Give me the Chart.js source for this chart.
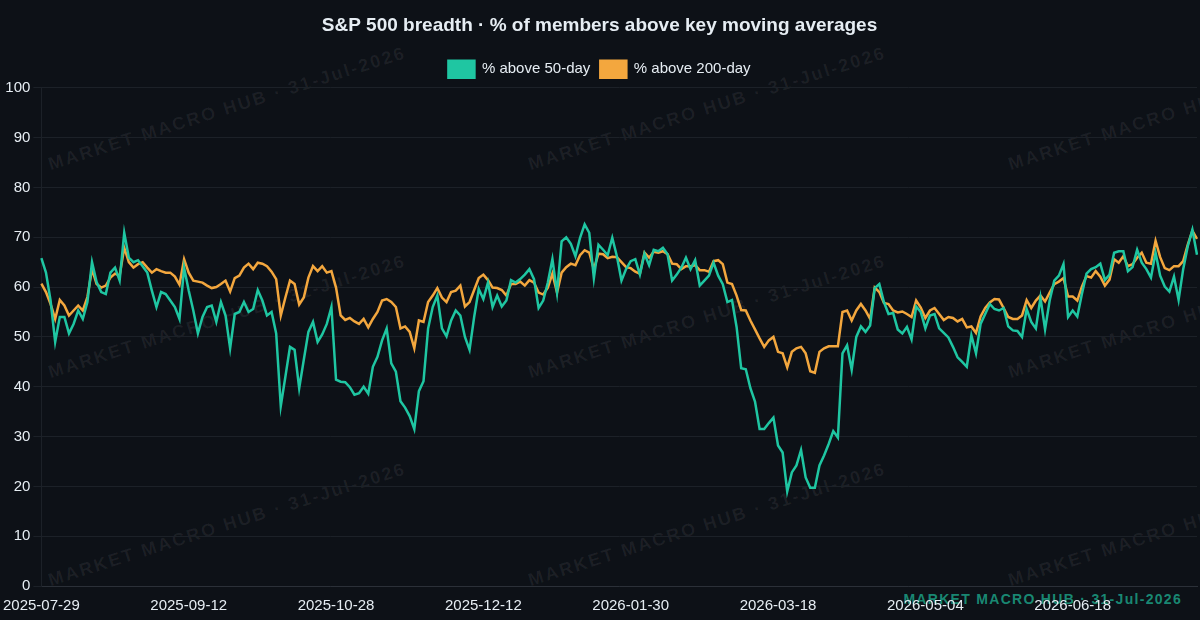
<!DOCTYPE html>
<html>
<head>
<meta charset="utf-8">
<title>S&amp;P 500 breadth</title>
<script src="https://cdn.jsdelivr.net/npm/chart.js@4.4.1/dist/chart.umd.min.js"></script>
<style>
  html, body { margin: 0; padding: 0; background: #0d1117; }
  #wrap { position: relative; width: 1200px; height: 620px; overflow: hidden; background: #0d1117; }
  #wrap canvas { position: absolute; left: 0; top: 0; z-index: 2; }
  .wm {
    position: absolute; z-index: 1; white-space: nowrap; line-height: 18px;
    font: bold 18px Helvetica, Arial, "Liberation Sans", sans-serif; letter-spacing: 2.2px;
    color: rgba(255, 255, 255, 0.065);
    transform-origin: 0 100%; transform: rotate(-17.5deg);
  }
  .stamp {
    position: absolute; z-index: 1; right: 18px; top: 591px; white-space: nowrap;
    font: bold 14px Helvetica, Arial, "Liberation Sans", sans-serif; letter-spacing: 1.3px;
    color: rgba(31, 190, 156, 0.7);
  }
</style>
</head>
<body>
<div id="wrap">
  <canvas id="chart" width="1200" height="620"></canvas>
  <div class="stamp">MARKET MACRO HUB · 31-Jul-2026</div>
</div>
<script>
// NYSE trading days, market holidays in the window
const holidays = [
  '2025-09-01', '2025-11-27', '2025-12-25', '2026-01-01', '2026-01-19',
  '2026-02-16', '2026-04-03', '2026-05-25', '2026-06-19', '2026-07-03'
];
const firstDay = '2025-07-29';
const labelEvery = 32; // one date label every 32 sessions
const yTicks = { min: 0, max: 100, step: 10 };

// % of members above 50-day MA
const above50 = [
  65.8, 62.9, 57.3, 49.0, 54.0, 54.0, 50.7, 52.6, 55.3, 53.6,
  57.0, 65.0, 61.0, 59.0, 58.6, 62.9, 63.9, 61.3, 70.9, 65.9,
  65.0, 65.4, 64.2, 62.9, 59.3, 56.0, 59.0, 58.6, 57.3, 56.0,
  53.6, 63.9, 59.3, 55.3, 50.7, 54.0, 56.0, 56.3, 53.0, 57.0,
  54.3, 47.7, 54.6, 55.0, 57.0, 55.0, 55.6, 59.4, 57.3, 54.3,
  55.0, 50.7, 36.1, 42.0, 48.0, 47.4, 39.7, 45.4, 51.0, 53.0,
  49.0, 50.5, 52.6, 56.0, 41.4, 41.0, 40.9, 39.9, 38.4, 38.7,
  40.0, 38.6, 44.0, 46.0, 49.3, 51.7, 44.7, 43.0, 37.1, 35.8,
  34.1, 31.5, 39.1, 41.1, 51.7, 56.0, 58.3, 51.7, 50.1, 53.3,
  55.3, 54.3, 50.0, 47.4, 54.0, 59.6, 57.6, 60.9, 56.0, 58.3,
  56.1, 57.3, 61.4, 60.9, 61.6, 62.5, 63.6, 61.6, 55.8, 57.3,
  60.9, 65.6, 58.9, 69.2, 70.0, 68.7, 66.2, 69.9, 72.6, 70.9,
  61.8, 68.5, 67.5, 66.4, 69.9, 66.2, 61.3, 63.6, 65.2, 65.6,
  62.5, 66.7, 64.4, 67.5, 67.2, 67.9, 66.6, 61.3, 62.5, 63.9,
  65.9, 63.6, 65.4, 60.3, 61.3, 62.3, 64.9, 62.3, 60.6, 57.0,
  57.4, 52.0, 43.7, 43.5, 39.7, 37.0, 31.5, 31.5, 32.7, 33.8,
  28.2, 26.8, 19.0, 22.8, 24.2, 27.3, 21.8, 19.7, 19.7, 24.2,
  26.2, 28.5, 31.1, 29.8, 46.7, 48.3, 43.4, 50.0, 52.1, 51.0,
  52.3, 59.8, 60.6, 57.0, 54.6, 54.8, 51.5, 50.7, 52.0, 49.5,
  56.1, 55.0, 51.7, 54.3, 54.6, 51.7, 50.8, 49.9, 48.0, 45.9,
  45.0, 44.0, 50.3, 46.7, 52.6, 54.6, 56.6, 55.6, 55.3, 55.8,
  52.1, 51.3, 51.2, 50.0, 55.6, 53.0, 51.7, 57.9, 51.5, 57.3,
  61.3, 62.3, 64.6, 54.0, 55.3, 54.1, 58.6, 62.7, 63.6, 64.0,
  64.7, 61.4, 62.5, 66.9, 67.2, 67.2, 63.2, 64.0, 67.5, 64.9,
  63.6, 61.9, 66.9, 62.3, 60.1, 59.1, 62.1, 57.4, 63.6, 68.2,
  71.5, 66.5
];

// % of members above 200-day MA
const above200 = [
  60.7, 59.0, 56.6, 53.6, 57.4, 56.3, 54.3, 55.3, 56.3, 55.3,
  58.0, 63.6, 60.6, 59.9, 60.3, 61.9, 62.7, 62.3, 67.9, 65.0,
  63.9, 64.6, 65.0, 63.9, 62.9, 63.6, 63.2, 62.9, 62.9, 62.1,
  60.5, 65.6, 62.9, 61.3, 61.1, 60.9, 60.3, 59.8, 60.0, 60.6,
  61.3, 59.1, 61.8, 62.3, 63.9, 64.7, 63.6, 64.9, 64.7, 64.2,
  63.1, 61.6, 54.3, 57.9, 61.3, 60.6, 56.5, 57.9, 61.9, 64.2,
  63.2, 64.2, 62.9, 63.2, 59.9, 54.3, 53.4, 53.8, 53.1, 52.6,
  53.6, 51.9, 53.6, 55.0, 57.3, 57.6, 57.0, 56.0, 51.7, 52.1,
  51.0, 47.7, 53.3, 53.0, 57.0, 58.3, 59.8, 57.9, 57.0, 59.0,
  59.3, 60.3, 56.1, 57.0, 59.4, 61.8, 62.5, 61.4, 59.9, 59.8,
  59.4, 58.3, 60.6, 60.6, 61.1, 60.3, 61.4, 60.9, 58.9, 58.5,
  59.9, 62.7, 58.9, 62.9, 64.0, 64.7, 64.4, 66.4, 67.4, 66.9,
  63.6, 66.7, 66.6, 65.8, 66.1, 66.0, 65.0, 64.0, 63.8, 63.1,
  62.7, 66.9, 65.9, 67.1, 66.9, 67.2, 66.6, 64.7, 64.6, 63.6,
  64.2, 64.2, 64.4, 63.4, 63.4, 63.1, 65.2, 65.4, 64.6, 60.9,
  60.6, 58.3, 55.4, 55.3, 53.3, 51.5, 49.7, 48.0, 49.3, 50.0,
  47.0, 46.7, 43.9, 47.0, 47.7, 48.0, 46.7, 43.1, 42.8, 47.0,
  47.7, 48.1, 48.1, 48.1, 55.0, 55.3, 53.3, 55.3, 56.6, 55.3,
  53.6, 59.9, 59.0, 56.8, 56.6, 55.3, 54.9, 55.1, 54.6, 54.0,
  57.3, 55.9, 53.8, 55.3, 55.8, 54.6, 53.4, 54.0, 53.8, 53.1,
  53.6, 51.9, 52.1, 50.8, 54.1, 55.8, 56.9, 57.6, 57.5, 55.8,
  54.0, 53.6, 53.6, 54.3, 57.4, 55.8, 57.3, 58.3, 57.1, 58.9,
  60.6, 61.1, 61.8, 58.1, 58.1, 57.3, 60.1, 62.2, 61.9, 63.2,
  62.1, 60.3, 61.5, 65.6, 64.9, 66.2, 64.2, 64.6, 65.9, 66.9,
  64.9, 64.7, 69.3, 66.0, 63.8, 63.4, 64.2, 64.2, 65.2, 68.5,
  71.3, 69.7
];

function tradingDays(start, n) {
  const out = [];
  const d = new Date(start + 'T00:00:00Z');
  while (out.length < n) {
    const s = d.toISOString().slice(0, 10);
    const wd = d.getUTCDay();
    if (wd !== 0 && wd !== 6 && !holidays.includes(s)) out.push(s);
    d.setUTCDate(d.getUTCDate() + 1);
  }
  return out;
}
const dates = tradingDays(firstDay, above50.length);

// faint diagonal watermark tiles (behind the canvas)
const wrap = document.getElementById('wrap');
[172, 380, 588].forEach(y => {
  [52, 532, 1012].forEach(x => {
    const el = document.createElement('div');
    el.className = 'wm';
    el.textContent = 'MARKET MACRO HUB · 31-Jul-2026';
    el.style.left = x + 'px';
    el.style.top = (y - 18) + 'px';
    wrap.appendChild(el);
  });
});

Chart.defaults.font.family = 'Helvetica, Arial, "Liberation Sans", sans-serif';
Chart.defaults.color = '#e6edf3';

const teal = '#1fc6a2';
const orange = '#f3a73e';

new Chart(document.getElementById('chart'), {
  type: 'line',
  data: {
    labels: dates,
    datasets: [
      {
        label: '% above 50-day',
        data: above50,
        borderColor: teal,
        backgroundColor: teal,
        borderWidth: 2.5,
        pointRadius: 0,
        tension: 0,
        fill: false
      },
      {
        label: '% above 200-day',
        data: above200,
        borderColor: orange,
        backgroundColor: orange,
        borderWidth: 2.5,
        pointRadius: 0,
        tension: 0,
        fill: false
      }
    ]
  },
  options: {
    responsive: false,
    animation: false,
    layout: { padding: { top: 4, right: 1, bottom: 2, left: 0 } },
    plugins: {
      title: {
        display: true,
        text: 'S&P 500 breadth · % of members above key moving averages',
        color: '#e6edf3',
        font: { size: 19, weight: 'bold' },
        padding: { top: 10, bottom: 14 }
      },
      legend: {
        position: 'top',
        labels: {
          color: '#e6edf3',
          font: { size: 15 },
          boxWidth: 26,
          boxHeight: 17,
          padding: 10
        }
      },
      tooltip: { enabled: false }
    },
    scales: {
      x: {
        grid: { display: false },
        border: { color: '#2b3038' },
        ticks: {
          color: '#e6edf3',
          font: { size: 15 },
          maxRotation: 0,
          autoSkip: false,
          callback: function (val, i) {
            return i % labelEvery === 0 ? this.getLabelForValue(val) : '';
          }
        }
      },
      y: {
        min: yTicks.min,
        max: yTicks.max,
        grid: { color: '#1c2128' },
        border: { color: '#1c2128' },
        ticks: { stepSize: yTicks.step, color: '#e6edf3', font: { size: 15 } }
      }
    }
  }
});
</script>
</body>
</html>
